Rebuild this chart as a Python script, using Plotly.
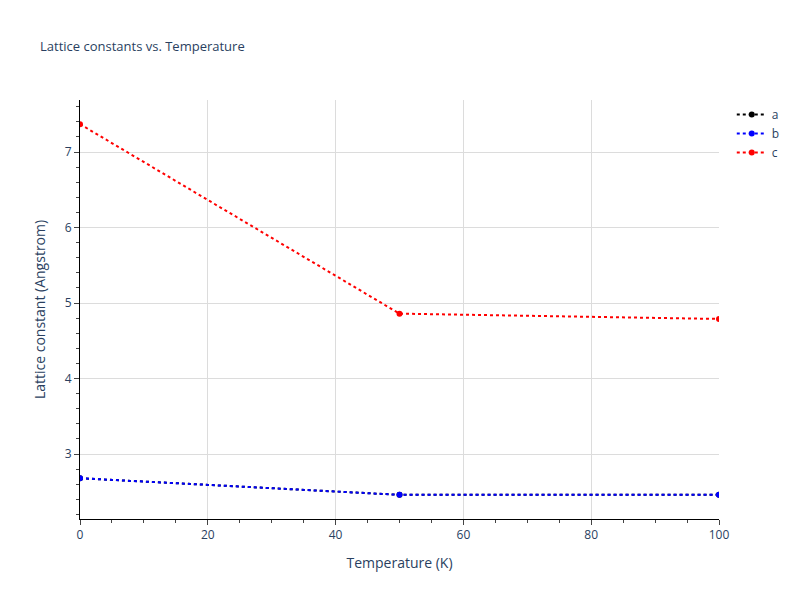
import plotly.graph_objects as go

temps = [0, 50, 100]
a_vals = [2.68, 2.46, 2.46]
b_vals = [2.68, 2.46, 2.46]
c_vals = [7.37, 4.86, 4.79]

fig = go.Figure()
for name, vals, col in [("a", a_vals, "black"), ("b", b_vals, "blue"), ("c", c_vals, "red")]:
    fig.add_trace(go.Scatter(x=temps, y=vals, name=name, mode="lines+markers",
                             line=dict(color=col, dash="dot", width=2), marker=dict(size=6, color=col)))

axis = dict(showline=True, linecolor="black", linewidth=1, ticks="outside", ticklen=5,
            gridcolor="#dcdcdc", zeroline=False, showgrid=True,
            minor=dict(ticks="outside", ticklen=3, showgrid=False))
fig.update_layout(
    template="plotly_white", width=800, height=600,
    title=dict(text="Lattice constants vs. Temperature", font=dict(size=13), x=0.04, y=0.943),
    margin=dict(l=72, r=89, t=92, b=89),
    xaxis=dict(title="Temperature (K)", range=[0, 100], **axis),
    yaxis=dict(title="Lattice constant (Angstrom)", range=[2.14, 7.69], dtick=1, **axis),
    legend=dict(x=1.02, y=1, font=dict(size=12)),
)
fig.write_html("out.html")
